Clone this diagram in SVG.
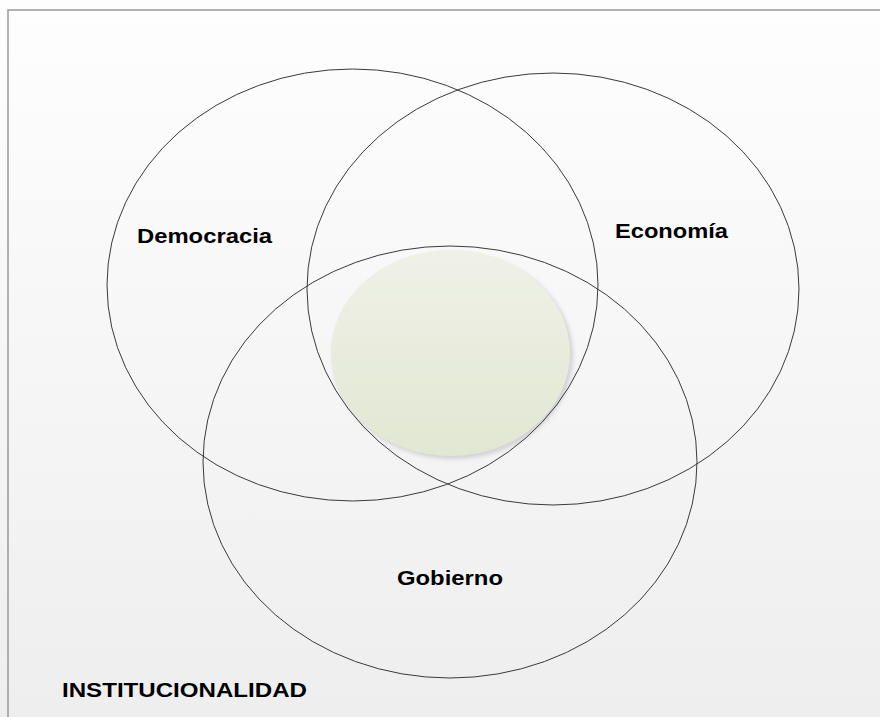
<svg xmlns="http://www.w3.org/2000/svg" width="880" height="717" viewBox="0 0 880 717">
  <defs>
    <linearGradient id="bg" x1="0" y1="0" x2="0" y2="1">
      <stop offset="0" stop-color="#fefefe"/>
      <stop offset="1" stop-color="#eeeeee"/>
    </linearGradient>
    <linearGradient id="core" x1="0" y1="0" x2="0" y2="1">
      <stop offset="0" stop-color="#eff1e7"/>
      <stop offset="1" stop-color="#e2e7d3"/>
    </linearGradient>
    <filter id="blur" x="-10%" y="-10%" width="120%" height="120%">
      <feGaussianBlur stdDeviation="2"/>
    </filter>
  </defs>
  <style>
    .ring { fill: none; stroke: #3a3a3a; stroke-width: 1; }
    .label { font-family: "Liberation Sans", Arial, sans-serif; font-weight: bold; font-size: 21px; fill: #000000; }
    .frame { stroke: #999999; stroke-width: 1.5; fill: none; }
  </style>
  <rect x="0" y="0" width="880" height="717" fill="url(#bg)"/>
  <path class="frame" d="M880 10 H8 V717"/>
  <g id="core-node">
    <ellipse cx="453" cy="356" rx="120" ry="103" fill="#d2d2d6" filter="url(#blur)"/>
    <ellipse cx="450.5" cy="353" rx="119.5" ry="103" fill="url(#core)"/>
  </g>
  <g id="connectors"/>
  <g id="democracia">
    <ellipse class="ring" cx="352.5" cy="285" rx="245.5" ry="216"/>
    <text class="label" x="137" y="243" textLength="135" lengthAdjust="spacingAndGlyphs">Democracia</text>
  </g>
  <g id="economia">
    <ellipse class="ring" cx="553" cy="289" rx="246" ry="216"/>
    <text class="label" x="615" y="238" textLength="113" lengthAdjust="spacingAndGlyphs">Economía</text>
  </g>
  <g id="gobierno">
    <ellipse class="ring" cx="450" cy="462" rx="247" ry="216"/>
    <text class="label" x="397" y="585" textLength="106" lengthAdjust="spacingAndGlyphs">Gobierno</text>
  </g>
  <g id="institucionalidad">
    <text class="label" x="62" y="697" textLength="245" lengthAdjust="spacingAndGlyphs">INSTITUCIONALIDAD</text>
  </g>
</svg>
